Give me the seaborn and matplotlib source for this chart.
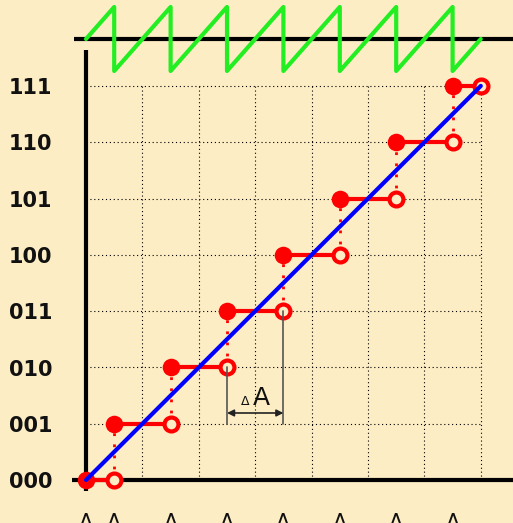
import matplotlib
matplotlib.use("Agg")
import matplotlib.pyplot as plt
import seaborn as sns
import pandas as pd

# ---------------- data ----------------
codes = ["000", "001", "010", "011", "100", "101", "110", "111"]
levels = [0, 1, 2, 3, 4, 5, 6, 7]
step_start = [0.0, 0.5, 1.5, 2.5, 3.5, 4.5, 5.5, 6.5]
step_end = [0.5, 1.5, 2.5, 3.5, 4.5, 5.5, 6.5, 7.0]
ideal_x = [0.0, 7.0]
ideal_y = [0.0, 7.0]
saw_x = [0.0, 0.5, 0.5, 1.5, 1.5, 2.5, 2.5, 3.5, 3.5, 4.5, 4.5, 5.5, 5.5, 6.5, 6.5, 7.0]
saw_err = [0.0, 0.5, -0.5, 0.5, -0.5, 0.5, -0.5, 0.5, -0.5, 0.5, -0.5, 0.5, -0.5, 0.5, -0.5, 0.0]
bottom_pos = [0.0, 0.5, 1.5, 2.5, 3.5, 4.5, 5.5, 6.5]
bottom_labels = ["A", "A", "A", "A", "A", "A", "A", "A"]
delta_from, delta_to = 2.5, 3.5

# ---------------- style ----------------
BG = "#FDEDC5"
RED = "#FF0000"
BLUE = "#0000FF"
GREEN = "#22EE22"

sns.set_style("white")
plt.rcParams["font.family"] = ["DejaVu Sans"]

fig = plt.figure(figsize=(5.13, 5.23), dpi=100, facecolor=BG)
ax = fig.add_axes([0, 0, 1, 1])
ax.set_facecolor(BG)
ax.set_xlim(-1.525, 7.571)
ax.set_ylim(-0.764, 8.526)
ax.axis("off")

# grid (dotted)
ax.hlines(levels[1:], 0, 7, colors="black", linewidth=0.8,
          linestyles=(0, (1, 2.5)), zorder=1)
ax.vlines(levels[1:], 0, 7, colors="black", linewidth=0.8,
          linestyles=(0, (1, 2.5)), zorder=1)

# axis lines
ax.plot([-0.25, 7.7], [0, 0], color="black", lw=3, solid_capstyle="butt", zorder=2)
ax.plot([0, 0], [-0.195, 7.64], color="black", lw=3, solid_capstyle="butt", zorder=2)

# red quantization steps
ax.hlines(levels, step_start, step_end, colors=RED, linewidth=3, zorder=3)
ax.vlines(step_end[:-1], levels[:-1], levels[1:], colors=RED, linewidth=2,
          linestyles=(0, (1, 3)), zorder=3)

steps = pd.DataFrame({"start": step_start, "end": step_end, "level": levels})
sns.scatterplot(data=steps, x="end", y="level", ax=ax, s=100, color=BG,
                edgecolor=RED, linewidth=3, zorder=4, legend=False)
sns.scatterplot(data=steps, x="start", y="level", ax=ax, s=160, color=RED,
                linewidth=0, zorder=4, legend=False)

# ideal line
sns.lineplot(x=ideal_x, y=ideal_y, ax=ax, color=BLUE, linewidth=3, zorder=5,
             estimator=None, sort=False)

# delta A annotation
ax.plot([delta_from, delta_from], [2, 1], color="#555555", lw=1.2, zorder=6)
ax.plot([delta_to, delta_to], [3, 1], color="#555555", lw=1.2, zorder=6)
ax.annotate("", xy=(delta_from, 1.19), xytext=(delta_to, 1.19),
            arrowprops=dict(arrowstyle="<|-|>", color="#222222", lw=1.2,
                            shrinkA=0, shrinkB=0, mutation_scale=10), zorder=6)
ax.text(2.75, 1.33, "\u0394", fontsize=9, ha="left", va="baseline", color="#111111")
ax.text(2.96, 1.33, "A", fontsize=18, ha="left", va="baseline", color="#111111")

# y labels
for lv, c in zip(levels, codes):
    ax.text(-0.6, lv - 0.04, c, ha="right", va="center", fontsize=15,
            fontweight="bold", color="#111111")

# bottom labels (cut off by figure edge, as in the original)
for xp, lab in zip(bottom_pos, bottom_labels):
    ax.text(xp, -0.585, lab, ha="center", va="top", fontsize=15, color="#111111")

# quantization error sawtooth on top
ax2 = fig.add_axes([0, 0, 1, 1])
ax2.patch.set_alpha(0)
ax2.set_xlim(-1.525, 7.571)
ax2.set_ylim(-7.5625, 0.609)
ax2.axis("off")
ax2.plot([-0.213, 7.7], [0, 0], color="black", lw=3, solid_capstyle="butt", zorder=1)
sns.lineplot(x=saw_x, y=saw_err, ax=ax2, color=GREEN, linewidth=3, zorder=2,
             estimator=None, sort=False)

fig.savefig("out.png", dpi=100, facecolor=BG)
